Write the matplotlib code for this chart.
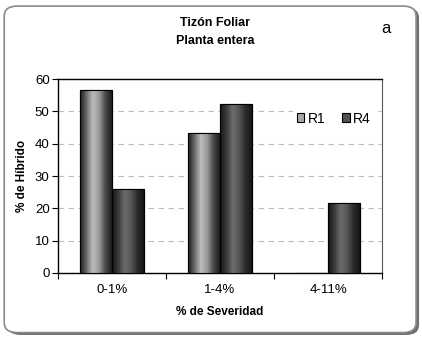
import numpy as np
import matplotlib.pyplot as plt
from matplotlib.patches import FancyBboxPatch
from matplotlib.colors import LinearSegmentedColormap

plt.rcParams['font.family'] = ['Liberation Sans', 'DejaVu Sans']

categories = ['0-1%', '1-4%', '4-11%']
r1 = [56.6, 43.4, 0]
r4 = [25.9, 52.3, 21.6]
series_names = ['R1', 'R4']

fig = plt.figure(figsize=(4.22, 3.39), dpi=100)

# rounded chart frame with a drop shadow on the right/bottom
shadow = FancyBboxPatch((0.018, 0.012), 0.975, 0.965, boxstyle='round,pad=0,rounding_size=0.03',
                        transform=fig.transFigure, facecolor='#6e6e6e', edgecolor='none', zorder=0)
frame = FancyBboxPatch((0.010, 0.019), 0.976, 0.963, boxstyle='round,pad=0,rounding_size=0.03',
                       transform=fig.transFigure, facecolor='white', edgecolor='#8a8a8a',
                       linewidth=1.2, zorder=1)
fig.patches.extend([shadow, frame])

ax = fig.add_axes([0.1374, 0.1947, 0.768, 0.572])
ax.set_facecolor('none')
ax.set_zorder(2)

x = np.arange(len(categories))
w = 0.296
bars1 = ax.bar(x - w / 2, r1, w, color='#999999', edgecolor='black', linewidth=0.8, zorder=3)
bars2 = ax.bar(x + w / 2, r4, w, color='#444444', edgecolor='black', linewidth=0.8, zorder=3)

# cylinder-like shading across each bar
cm1 = LinearSegmentedColormap.from_list('r1', ['#1e1e1e', '#6a6a6a', '#bcbcbc', '#9a9a9a', '#4a4a4a', '#1e1e1e'])
cm2 = LinearSegmentedColormap.from_list('r4', ['#161616', '#3c3c3c', '#6c6c6c', '#555555', '#2c2c2c', '#161616'])
grad = np.linspace(0, 1, 64).reshape(1, -1)
for bars, cm in ((bars1, cm1), (bars2, cm2)):
    for b in bars:
        h = b.get_height()
        if h <= 0:
            continue
        x0 = b.get_x()
        im = ax.imshow(grad, cmap=cm, aspect='auto', extent=(x0, x0 + b.get_width(), 0, h),
                       zorder=3.5, interpolation='bilinear')
        im.set_clip_path(b)
        ax.bar(x0 + b.get_width() / 2, h, b.get_width(), color='none', edgecolor='black',
               linewidth=0.8, zorder=4)

ax.set_xlim(-0.5, 2.5)
ax.set_ylim(0, 60)
ax.set_yticks(range(0, 61, 10))
ax.yaxis.grid(True, linestyle=(0, (5, 4)), color='#bdbdbd', linewidth=0.8)
ax.set_axisbelow(True)

ax.set_xticks(x)
ax.set_xticklabels(categories, fontsize=9.5)
ax.set_xticks([-0.5, 0.5, 1.5, 2.5], minor=True)
ax.tick_params(axis='x', which='major', length=0, pad=8)
ax.tick_params(axis='x', which='minor', length=4, direction='out', width=0.8)
ax.tick_params(axis='y', labelsize=9.5, length=4, width=0.8, pad=2)

for s in ('left', 'bottom', 'top'):
    ax.spines[s].set_color('black')
    ax.spines[s].set_linewidth(1.0)
ax.spines['right'].set_color('#555555')
ax.spines['right'].set_linewidth(0.8)

ax.set_ylabel('% de Híbrido', fontsize=8.5, fontweight='bold', labelpad=5)
ax.set_xlabel('% de Severidad', fontsize=8.5, fontweight='bold', labelpad=7)

leg = ax.legend([bars1, bars2], series_names, loc='upper right', bbox_to_anchor=(1.0, 0.89), ncol=2,
                frameon=True, fontsize=10, handlelength=0.55, handleheight=0.55,
                columnspacing=1.2, handletextpad=0.25, borderpad=0.3)
leg.get_frame().set_edgecolor('none')
leg.get_frame().set_facecolor('white')
leg.get_frame().set_alpha(1)
leg.legend_handles[0].set_facecolor('#a8a8a8')
leg.legend_handles[1].set_facecolor('#505050')

fig.text(0.51, 0.932, 'Tizón Foliar', ha='center', va='center', fontsize=9, fontweight='bold')
fig.text(0.51, 0.878, 'Planta entera', ha='center', va='center', fontsize=9, fontweight='bold')
fig.text(0.915, 0.915, 'a', ha='center', va='center', fontsize=12)

fig.savefig('out.png', dpi=100)
